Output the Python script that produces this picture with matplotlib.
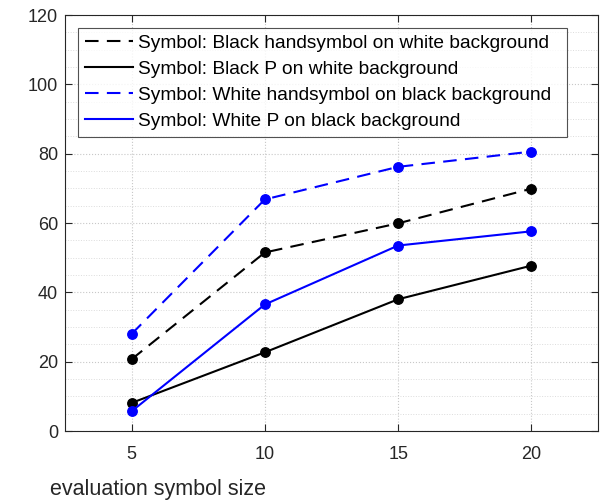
import numpy as np
import matplotlib.pyplot as plt
from matplotlib.ticker import MultipleLocator

plt.rcParams['font.family'] = ['Liberation Sans', 'DejaVu Sans']

sizes = [5, 10, 15, 20]
black_hand = [20.7, 51.5, 59.9, 69.9]
black_p = [8.1, 22.7, 38.0, 47.7]
white_hand = [28.0, 66.8, 76.2, 80.6]
white_p = [5.7, 36.5, 53.5, 57.6]

labels = [
    "Symbol: Black handsymbol on white background",
    "Symbol: Black P on white background",
    "Symbol: White handsymbol on black background",
    "Symbol: White P on black background",
]

fig = plt.figure(figsize=(6.0, 5.01), dpi=100)
ax = fig.add_axes([65 / 600, 1 - 431 / 501, 533 / 600, 416 / 501])

dash = (0, (6.5, 4.0))
ax.plot(sizes, black_hand, color='k', ls=dash, marker='o', ms=6.8, lw=1.5, label=labels[0])
ax.plot(sizes, black_p, color='k', ls='-', marker='o', ms=6.8, lw=1.5, label=labels[1])
ax.plot(sizes, white_hand, color='#0000ff', ls=dash, marker='o', ms=6.8, lw=1.5, label=labels[2])
ax.plot(sizes, white_p, color='#0000ff', ls='-', marker='o', ms=6.8, lw=1.5, label=labels[3])

ax.set_xlim(2.5, 22.5)
ax.set_ylim(0, 120)
ax.set_xticks(sizes)
ax.set_yticks(np.arange(0, 121, 20))
ax.yaxis.set_minor_locator(MultipleLocator(5))
ax.tick_params(which='both', direction='in', top=True, right=True, labelsize=13,
               color='#262626', labelcolor='#262626')
ax.tick_params(which='major', length=5)
ax.tick_params(which='minor', length=0)
ax.tick_params(axis='x', pad=11)
ax.tick_params(axis='y', pad=5)
ax.grid(which='major', ls=':', color='#c8c8c8', lw=0.8)
ax.grid(which='minor', axis='y', ls=':', color='#dcdcdc', lw=0.7)
ax.set_axisbelow(True)
for s in ax.spines.values():
    s.set_color('#262626')
    s.set_linewidth(0.8)

# legend box in pixels: x 78..567, y 28..136
leg_box = ((78 - 65) / 533, 1 - (136 - 15) / 416, (567 - 78) / 533, 108 / 416)
leg = ax.legend(loc='upper left', bbox_to_anchor=leg_box, mode='expand', fontsize=13.75,
                frameon=True, fancybox=False, edgecolor='#262626', handlelength=2.55,
                handletextpad=0.25, labelspacing=0.45, borderpad=0.35, borderaxespad=0)
leg.get_frame().set_linewidth(0.8)
for h in leg.legend_handles:
    h.set_marker('')

fig.text(158 / 600, 1 - 490 / 501, "evaluation symbol size", fontsize=15.5,
         ha='center', va='center', color='#262626')

fig.savefig('out.png', dpi=100)
